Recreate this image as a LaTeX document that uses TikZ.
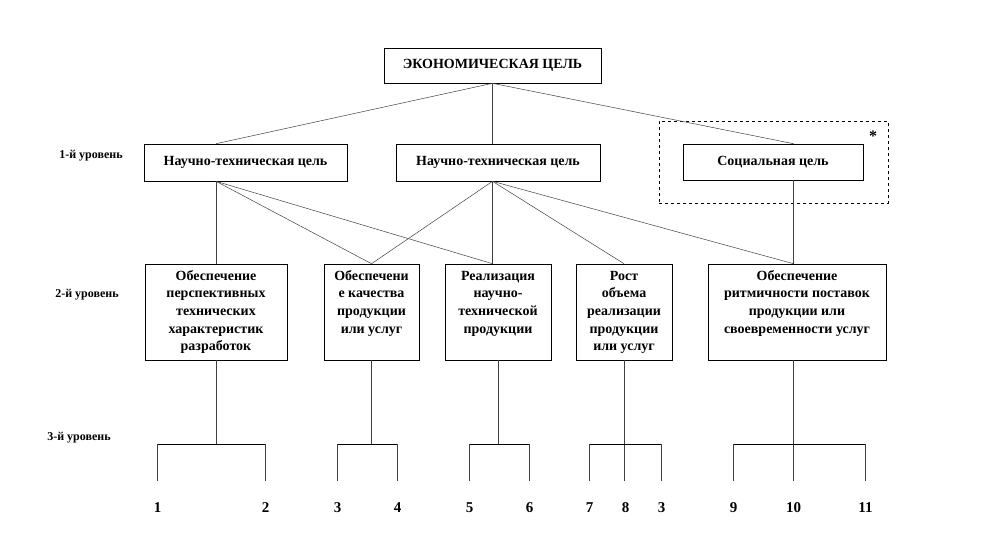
\documentclass[tikz,border=0pt]{standalone}
\usepackage{fontspec}
\setmainfont{Liberation Serif}
\usetikzlibrary{positioning,calc}

% text of a level-2 box: top aligned, fixed size
\newcommand{\lvtext}[3]{\parbox[c][#2][t]{#1}{\centering\rule{0pt}{16pt}#3}}

\begin{document}
\begin{tikzpicture}[
    x=1pt, y=-1pt,
    font=\fontsize{14}{17.7}\selectfont\bfseries,
    goal/.style={draw,line width=0.6pt,minimum height=37pt,inner sep=0pt},
    sub/.style={draw,line width=0.6pt,inner sep=0pt},
    lvl/.style={font=\fontsize{12}{14}\selectfont\bfseries},
    num/.style={font=\fontsize{15}{17}\selectfont\bfseries},
    link/.style={black!75,line width=0.5pt},
    bar/.style={black,line width=0.8pt},
  ]
  \useasboundingbox (0,0) rectangle (996,542);

  % --- top goal ---
  \node[goal,minimum width=217pt,minimum height=35pt] (eco) at (492.5,65.5) {ЭКОНОМИЧЕСКАЯ ЦЕЛЬ};

  % --- level 1 ---
  \node[lvl] (lv1) at (91,156) {1-й уровень};
  \node[goal,minimum width=203pt] (ntc1) at (245.5,162.5) {Научно-техническая цель};
  \node[goal,minimum width=204pt] (ntc2) at (498,162.5) {Научно-техническая цель};
  \node[draw,dashed,line width=0.6pt,minimum width=229pt,minimum height=82pt] (socframe) at (773.5,162) {};
  \node[goal,minimum width=180pt,minimum height=36pt] (soc) at (773,162) {Социальная цель};
  \node[font=\fontsize{16}{16}\selectfont\bfseries] (star) at (873,136) {*};

  % --- level 2 ---
  \node[lvl] (lv2) at (87,295) {2-й уровень};
  \node[sub] (oa) at (216,312)   {\lvtext{142pt}{96pt}{Обеспечение\\перспективных\\технических\\характеристик\\разработок}};
  \node[sub] (ob) at (371.5,312) {\lvtext{95pt}{96pt}{Обеспечени\\е качества\\продукции\\или услуг}};
  \node[sub] (oc) at (498,312)   {\lvtext{106pt}{96pt}{Реализация\\научно-\\технической\\продукции}};
  \node[sub] (od) at (624,312)   {\lvtext{96pt}{96pt}{Рост\\объема\\реализации\\продукции\\или услуг}};
  \node[sub] (oe) at (797,312)   {\lvtext{178pt}{96pt}{Обеспечение\\ритмичности поставок\\продукции или\\своевременности услуг}};

  % --- level 3 ---
  \node[lvl] (lv3) at (79,438) {3-й уровень};
  \coordinate (rail) at (0,444);
  \coordinate (foot) at (0,481);
  \foreach \i/\x/\t in {1/156/1, 2/264/2, 3/336/3, 4/396/4, 5/468/5, 6/528/6,
                        7/588/7, 8/624/8, 9/660/3, 10/732/9, 11/792/10, 12/864/11} {
    \node[num] (d\i) at (\x+1.5,508) {\t};
  }

  % top goal to level 1
  \draw[link] (eco.south) -- (ntc1.north -| oa.north);
  \draw[link] (eco.south) -- (eco.south |- ntc2.north);
  \draw[link] (eco.south) -- (soc.north -| d11);

  % level 1 to level 2
  \foreach \t in {oa.north, ob.north, {oc.north -| eco.south}} {
    \draw[link] (ntc1.south -| oa.north) -- (\t);
  }
  \foreach \t in {ob.north, {oc.north -| eco.south}, od.north, {oe.north -| d11}} {
    \draw[link] (eco.south |- ntc2.south) -- (\t);
  }
  \draw[link] (soc.south -| d11) -- (oe.north -| d11);

  % level 2 to level 3
  \draw[link] (oa.south) -- (oa.south |- rail);
  \draw[link] (ob.south) -- (ob.south |- rail);
  \draw[link] (oc.south) -- (oc.south |- rail);
  \draw[link] (od.south) -- (od.south |- foot);
  \draw[link] (oe.south -| d11) -- (d11 |- foot);

  % brackets
  \foreach \a/\b in {d1/d2, d3/d4, d5/d6, d7/d9, d10/d12} {
    \draw[bar] (\a |- rail) -- (\b |- rail);
  }
  \foreach \n in {d1,d2,d3,d4,d5,d6,d7,d9,d10,d12} {
    \draw[link] (\n |- rail) -- (\n |- foot);
  }

\end{tikzpicture}
\end{document}
